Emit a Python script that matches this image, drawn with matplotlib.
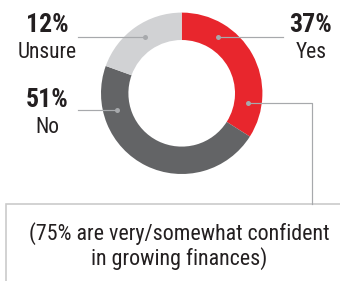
import matplotlib
matplotlib.use("Agg")
import matplotlib.pyplot as plt
from matplotlib import font_manager
import numpy as np

# ---- data ----
categories = ["Yes", "No", "Unsure"]
label_values = [37, 51, 12]             # percentages printed on the chart
slice_shares = [34, 46.5, 19.5]         # arc shares as drawn in the picture
note_lines = ["(75% are very/somewhat confident", "in growing finances)"]

colors = ["#E8262D", "#636466", "#D1D2D4"]
text_color = "#231F20"
leader_color = "#A7A9AC"
box_color = "#C9C9C9"

names = {f.name for f in font_manager.fontManager.ttflist}
prefs = ["Roboto Condensed", "Archivo Narrow", "PT Sans Narrow", "Liberation Sans Narrow",
         "Fira Sans Condensed", "Encode Sans Condensed", "Barlow Semi Condensed"]
narrow = next((p for p in prefs if p in names), "DejaVu Sans")
plt.rcParams["font.family"] = [narrow, "DejaVu Sans"]

W, H = 340, 281
fig = plt.figure(figsize=(W / 100, H / 100), dpi=100)
ax = fig.add_axes([0, 0, 1, 1])

def Y(y):
    return H - y

cx, cy = 181.7, Y(93.3)
r_out, r_in = 80.7, 53.3
ax.pie(slice_shares, colors=colors, startangle=90, counterclock=False,
       radius=r_out, center=(cx, cy),
       wedgeprops=dict(width=r_out - r_in, linewidth=0))
ax.set_xlim(0, W)
ax.set_ylim(0, H)
ax.set_aspect("equal")
ax.axis("off")

r_mid = (r_out + r_in) / 2
lw = 1.2 * 0.72

def dot(angle_deg):
    a = np.deg2rad(angle_deg)
    x = cx + r_mid * np.sin(a)
    y = cy + r_mid * np.cos(a)
    ax.plot([x], [y], "o", ms=5 * 0.72, color=leader_color, mec="none", zorder=5)
    return x, y

# Yes (top)
x, y = dot(33)
ax.plot([x, 283], [y, y], color=leader_color, lw=lw, zorder=4)
# Yes (right, to box)
x, y = dot(98.4)
ax.plot([x, 311.7, 311.7], [y, y, Y(204)], color=leader_color, lw=lw, zorder=4)
# Unsure
x, y = dot(326.6)
ax.plot([78, x], [y, y], color=leader_color, lw=lw, zorder=4)
# No
x, y = dot(255.3)
ax.plot([78, x], [y, y], color=leader_color, lw=lw, zorder=4)

# note box
ax.plot([6, 6, W + 2], [Y(H + 2), Y(204), Y(204)], color=box_color, lw=1.6 * 0.72,
        solid_joinstyle="miter")

# labels
num_fs, lab_fs = 18.5, 15.5
pos = {"Yes": (311, 32, 58), "No": (47, 107, 133), "Unsure": (47, 32, 58)}
for cat, val in zip(categories, label_values):
    px, yb1, yb2 = pos[cat]
    ax.text(px, Y(yb1), f"{val}%", ha="center", va="baseline", fontsize=num_fs,
            fontweight="bold", color=text_color)
    ax.text(px, Y(yb2), cat, ha="center", va="baseline", fontsize=lab_fs,
            color=text_color)

ax.text(179.5, Y(240), note_lines[0], ha="center", va="baseline", fontsize=15.8,
        color=text_color)
ax.text(179.5, Y(265), note_lines[1], ha="center", va="baseline", fontsize=15.8,
        color=text_color)

fig.savefig("out.png", dpi=100)
